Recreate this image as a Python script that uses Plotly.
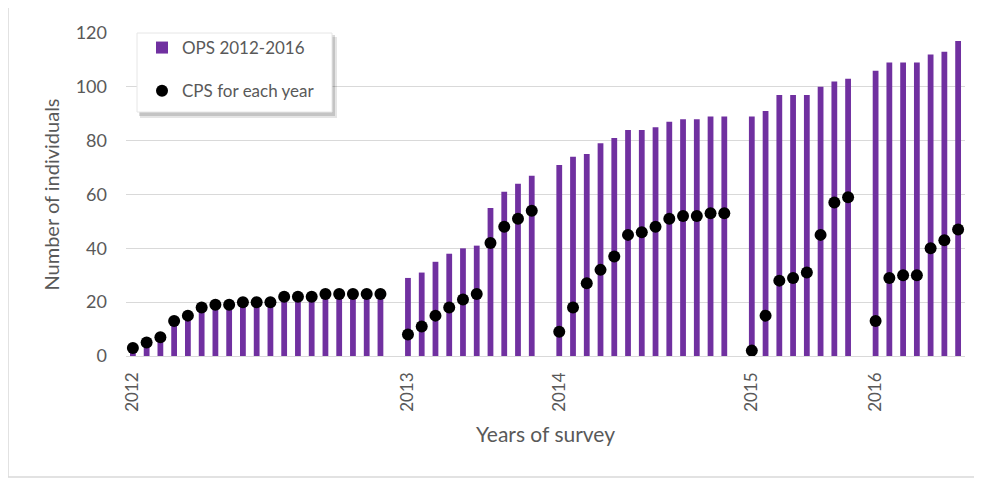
import plotly.graph_objects as go

# survey counts, one list per year
years = ["2012", "2013", "2014", "2015", "2016"]

ops_2012 = [3, 5, 7, 13, 15, 18, 19, 19, 20, 20, 20, 22, 22, 22, 23, 23, 23, 23, 23]
cps_2012 = [3, 5, 7, 13, 15, 18, 19, 19, 20, 20, 20, 22, 22, 22, 23, 23, 23, 23, 23]

ops_2013 = [29, 31, 35, 38, 40, 41, 55, 61, 64, 67]
cps_2013 = [8, 11, 15, 18, 21, 23, 42, 48, 51, 54]

ops_2014 = [71, 74, 75, 79, 81, 84, 84, 85, 87, 88, 88, 89, 89]
cps_2014 = [9, 18, 27, 32, 37, 45, 46, 48, 51, 52, 52, 53, 53]

ops_2015 = [89, 91, 97, 97, 97, 100, 102, 103]
cps_2015 = [2, 15, 28, 29, 31, 45, 57, 59]

ops_2016 = [106, 109, 109, 109, 112, 113, 117]
cps_2016 = [13, 29, 30, 30, 40, 43, 47]

ops_by_year = [ops_2012, ops_2013, ops_2014, ops_2015, ops_2016]
cps_by_year = [cps_2012, cps_2013, cps_2014, cps_2015, cps_2016]

PURPLE = "#7030A0"
GREY_TEXT = "#595959"
GRID = "#D9D9D9"
FONT = "Lato, 'Open Sans', sans-serif"

# one empty slot between survey years
xs, ops, cps, year_ticks = [], [], [], []
pos = 0
for o_list, c_list in zip(ops_by_year, cps_by_year):
    year_ticks.append(pos)
    for o, c in zip(o_list, c_list):
        xs.append(pos)
        ops.append(o)
        cps.append(c)
        pos += 1
    pos += 1
last = xs[-1]

fig = go.Figure()
fig.add_trace(go.Bar(
    x=xs, y=ops, name="OPS 2012-2016",
    marker=dict(color=PURPLE, line=dict(width=0)),
    legendgroup="a",
))
fig.add_trace(go.Scatter(
    x=xs, y=cps, name="CPS for each year", mode="markers",
    marker=dict(color="black", size=12),
    legendgroup="b",
))

# the page body adds an 8px margin, so the figure is sized to fit inside it
OFF = 8
W, H = 982 - OFF, 479 - OFF
plot_left, plot_right, plot_top, plot_bottom = 126, 965, 33, 356  # window pixels
l, r = plot_left - OFF, W - (plot_right - OFF)
t, b = plot_top - OFF, H - (plot_bottom - OFF)
pw, ph = W - l - r, H - t - b


def px_x(v):
    # window pixel -> paper x
    return (v - plot_left) / pw


def px_y(v):
    # window pixel -> paper y
    return (plot_bottom - v) / ph


fig.update_layout(
    width=W, height=H,
    margin=dict(l=l, r=r, t=t, b=b, autoexpand=False),
    paper_bgcolor="white", plot_bgcolor="white",
    font=dict(family=FONT, color=GREY_TEXT, size=17),
    bargap=0.58,
    showlegend=True,
    legend=dict(
        x=px_x(142), y=px_y(30), xanchor="left", yanchor="top",
        bgcolor="rgba(0,0,0,0)", borderwidth=0,
        font=dict(size=17, color=GREY_TEXT),
        tracegroupgap=18, traceorder="grouped",
        itemwidth=30,
    ),
    xaxis=dict(
        range=[-0.5, last + 0.5],
        tickmode="array", tickvals=year_ticks, ticktext=years,
        tickangle=-90, tickfont=dict(size=17, color=GREY_TEXT),
        ticklabelstandoff=12,
        showgrid=False, zeroline=False,
        showline=False,
        title=dict(text="Years of survey", font=dict(size=21, color=GREY_TEXT), standoff=16),
    ),
    yaxis=dict(
        range=[0, 120], tickvals=[0, 20, 40, 60, 80, 100, 120],
        tickfont=dict(size=18, color=GREY_TEXT),
        ticklabelstandoff=18,
        gridcolor=GRID, gridwidth=1.2,
        zeroline=True, zerolinecolor=GRID, zerolinewidth=1.2,
        title=dict(text="Number of individuals", font=dict(size=20, color=GREY_TEXT), standoff=10),
    ),
    shapes=[
        # outer chart frame
        dict(type="rect", xref="paper", yref="paper",
             x0=px_x(8), x1=px_x(995), y0=px_y(477), y1=px_y(6),
             line=dict(color=GRID, width=1.5), fillcolor="rgba(0,0,0,0)", layer="below"),
        # soft legend shadow
        dict(type="rect", xref="paper", yref="paper",
             x0=px_x(140), x1=px_x(337), y0=px_y(118), y1=px_y(37),
             line=dict(width=0), fillcolor="rgba(0,0,0,0.10)", layer="above"),
        dict(type="rect", xref="paper", yref="paper",
             x0=px_x(139), x1=px_x(335), y0=px_y(116), y1=px_y(35),
             line=dict(width=0), fillcolor="rgba(0,0,0,0.14)", layer="above"),
        # legend box
        dict(type="rect", xref="paper", yref="paper",
             x0=px_x(137), x1=px_x(332), y0=px_y(112), y1=px_y(33),
             line=dict(color="#E6E6E6", width=1), fillcolor="white", layer="above"),
    ],
)

fig.write_html("out.html")
